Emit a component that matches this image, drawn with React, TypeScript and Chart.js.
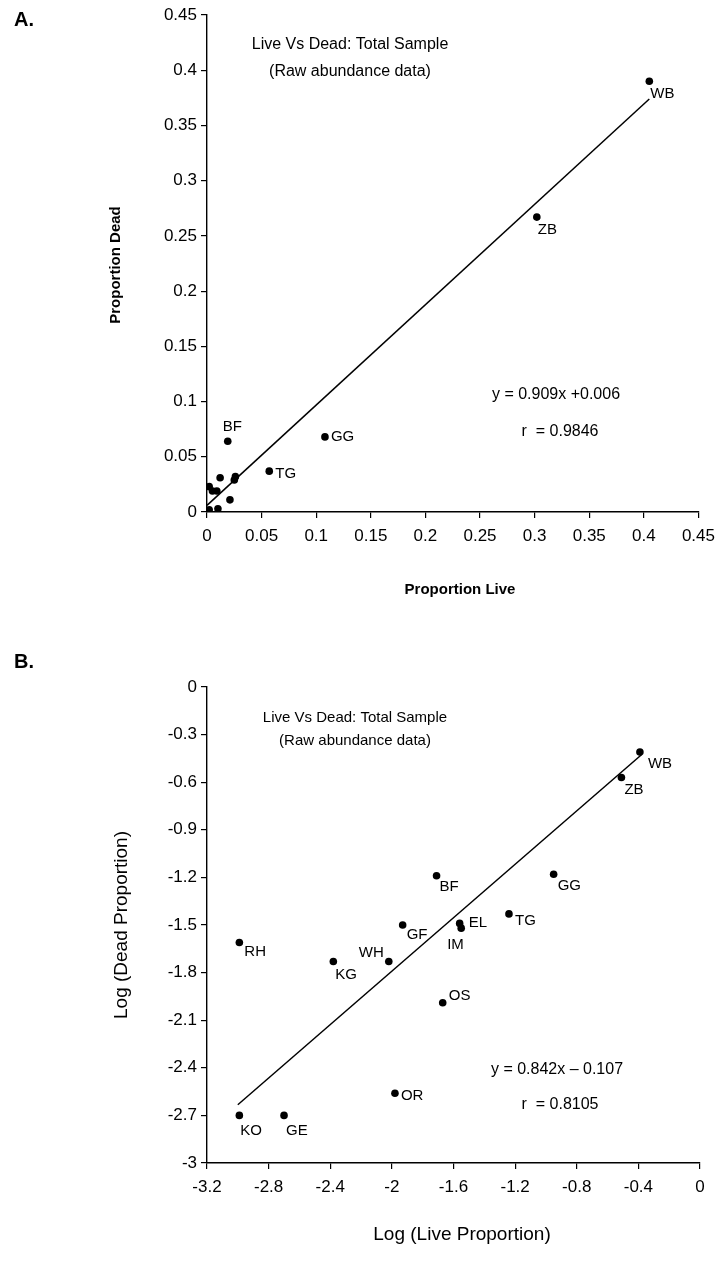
import React, { useEffect, useRef } from "react";
import { Chart, registerables } from "chart.js";

Chart.register(...registerables);

const FONT = "'Liberation Sans', Arial, Helvetica, sans-serif";

// ---------- Panel A data (raw proportions) ----------
const topCodes = ["WB", "ZB", "GG", "TG", "BF", "GF", "EL", "IM", "OS", "WH", "KG", "RH", "OR", "KO", "GE"];
const topLive = [0.405, 0.302, 0.108, 0.057, 0.019, 0.012, 0.026, 0.025, 0.021, 0.009, 0.005, 0.002, 0.010, 0.001, 0.002];
const topDead = [0.390, 0.267, 0.068, 0.037, 0.064, 0.031, 0.032, 0.029, 0.011, 0.019, 0.019, 0.023, 0.003, 0.001, 0.002];
const topShownLabels = ["WB", "ZB", "GG", "TG", "BF"];
const topFitX = [0, 0.405];
const topFitY = [0.006, 0.374];
const topTickValues = [0, 0.05, 0.1, 0.15, 0.2, 0.25, 0.3, 0.35, 0.4, 0.45];
const topTickLabels = ["0", "0.05", "0.1", "0.15", "0.2", "0.25", "0.3", "0.35", "0.4", "0.45"];

// ---------- Panel B data (log proportions) ----------
const botCodes = ["WB", "ZB", "GG", "BF", "EL", "IM", "TG", "GF", "WH", "KG", "RH", "OS", "OR", "KO", "GE"];
const botLogLive = [-0.39, -0.51, -0.95, -1.71, -1.56, -1.55, -1.24, -1.93, -2.02, -2.38, -2.99, -1.67, -1.98, -2.99, -2.70];
const botLogDead = [-0.41, -0.57, -1.18, -1.19, -1.49, -1.52, -1.43, -1.50, -1.73, -1.73, -1.61, -1.99, -2.56, -2.70, -2.70];
const botFitX = [-3.0, -0.38];
const botFitY = [-2.633, -0.427];
const botXTickValues = [-3.2, -2.8, -2.4, -2, -1.6, -1.2, -0.8, -0.4, 0];
const botXTickLabels = ["-3.2", "-2.8", "-2.4", "-2", "-1.6", "-1.2", "-0.8", "-0.4", "0"];
const botYTickValues = [-3, -2.7, -2.4, -2.1, -1.8, -1.5, -1.2, -0.9, -0.6, -0.3, 0];
const botYTickLabels = ["-3", "-2.7", "-2.4", "-2.1", "-1.8", "-1.5", "-1.2", "-0.9", "-0.6", "-0.3", "0"];

// label offsets (px) relative to the point
const topLabelOffsets: Record<string, [number, number, string]> = {
  WB: [1, 13, "left"],
  ZB: [1, 13, "left"],
  GG: [6, 0, "left"],
  TG: [6, 3, "left"],
  BF: [-5, -14, "left"],
};
const botLabelOffsets: Record<string, [number, number, string]> = {
  WB: [8, 12, "left"],
  ZB: [3, 12, "left"],
  GG: [4, 12, "left"],
  BF: [3, 11, "left"],
  EL: [9, -1, "left"],
  IM: [-14, 17, "left"],
  TG: [6, 7, "left"],
  GF: [4, 10, "left"],
  WH: [-30, -9, "left"],
  KG: [2, 13, "left"],
  RH: [5, 9, "left"],
  OS: [6, -7, "left"],
  OR: [6, 3, "left"],
  KO: [1, 15, "left"],
  GE: [2, 15, "left"],
};

type TextItem = {
  text: string;
  x: number;
  y: number;
  font: string;
  align?: CanvasTextAlign;
  rot?: number;
  data?: boolean;
  dx?: number;
  dy?: number;
};

function textPlugin(items: TextItem[]) {
  return {
    id: "texts",
    afterDraw(chart: any) {
      const ctx: CanvasRenderingContext2D = chart.ctx;
      const xs = chart.scales.x;
      const ys = chart.scales.y;
      ctx.save();
      ctx.fillStyle = "#000";
      ctx.textBaseline = "middle";
      for (const t of items) {
        let px = t.x;
        let py = t.y;
        if (t.data) {
          px = xs.getPixelForValue(t.x);
          py = ys.getPixelForValue(t.y);
        }
        px += t.dx || 0;
        py += t.dy || 0;
        ctx.font = t.font;
        ctx.textAlign = t.align || "left";
        if (t.rot) {
          ctx.save();
          ctx.translate(px, py);
          ctx.rotate(t.rot);
          ctx.fillText(t.text, 0, 0);
          ctx.restore();
        } else {
          ctx.fillText(t.text, px, py);
        }
      }
      ctx.restore();
    },
  };
}

function axisCommon(values: number[], labels: string[], min: number, max: number, size: number, isX: boolean, fit: number) {
  return {
    type: "linear" as const,
    min,
    max,
    afterBuildTicks: (scale: any) => {
      scale.ticks = values.map((v) => ({ value: v }));
    },
    afterFit: (scale: any) => {
      if (isX) scale.height = fit;
      else scale.width = fit;
    },
    ticks: {
      color: "#000",
      font: { family: FONT, size },
      padding: isX ? 8 : 4,
      autoSkip: false,
      maxRotation: 0,
      minRotation: 0,
      callback: (_v: any, i: number) => labels[i],
    },
    grid: {
      display: true,
      drawOnChartArea: false,
      drawTicks: true,
      tickLength: 6,
      color: "#000",
      lineWidth: 1.2,
    },
    border: { display: true, color: "#000", width: 1.4 },
    title: { display: false },
  };
}

export default function App() {
  const topRef = useRef<HTMLCanvasElement | null>(null);
  const botRef = useRef<HTMLCanvasElement | null>(null);

  useEffect(() => {
    document.body.style.margin = "0";
    const charts: Chart[] = [];

    // ----- Panel A -----
    const topPts = topLive.map((v, i) => ({ x: v, y: topDead[i] }));
    const topItems: TextItem[] = [
      { text: "A.", x: 14, y: 20, font: `bold 20px ${FONT}` },
      { text: "Live Vs Dead: Total Sample", x: 350, y: 45, font: `16px ${FONT}`, align: "center" },
      { text: "(Raw abundance data)", x: 350, y: 72, font: `16px ${FONT}`, align: "center" },
      { text: "y = 0.909x +0.006", x: 556, y: 395, font: `16px ${FONT}`, align: "center" },
      { text: "r  = 0.9846", x: 560, y: 432, font: `16px ${FONT}`, align: "center" },
      { text: "Proportion Live", x: 460, y: 590, font: `bold 15px ${FONT}`, align: "center" },
      { text: "Proportion Dead", x: 116, y: 265, font: `bold 15px ${FONT}`, align: "center", rot: -Math.PI / 2 },
    ];
    topCodes.forEach((c, i) => {
      if (topShownLabels.includes(c)) {
        const o = topLabelOffsets[c];
        topItems.push({ text: c, x: topLive[i], y: topDead[i], data: true, dx: o[0], dy: o[1], font: `15px ${FONT}`, align: o[2] as CanvasTextAlign });
      }
    });

    if (topRef.current) {
      charts.push(
        new Chart(topRef.current, {
          type: "scatter",
          data: {
            datasets: [
              {
                data: topPts,
                backgroundColor: "#000",
                borderColor: "#000",
                pointRadius: 3.8,
                pointBorderWidth: 0,
              },
              {
                type: "line",
                data: topFitX.map((v, i) => ({ x: v, y: topFitY[i] })),
                borderColor: "#000",
                borderWidth: 1.5,
                pointRadius: 0,
                showLine: true,
                fill: false,
              } as any,
            ],
          },
          options: {
            animation: false,
            responsive: false,
            maintainAspectRatio: false,
            layout: { padding: { left: 0, right: 20, top: 15, bottom: 0 } },
            plugins: { legend: { display: false }, tooltip: { enabled: false }, title: { display: false } },
            scales: {
              x: axisCommon(topTickValues, topTickLabels, 0, 0.45, 17, true, 128),
              y: axisCommon(topTickValues, topTickLabels, 0, 0.45, 17, false, 207),
            },
          } as any,
          plugins: [textPlugin(topItems)],
        })
      );
    }

    // ----- Panel B -----
    const botPts = botLogLive.map((v, i) => ({ x: v, y: botLogDead[i] }));
    const botItems: TextItem[] = [
      { text: "B.", x: 14, y: 22, font: `bold 20px ${FONT}` },
      { text: "Live Vs Dead: Total Sample", x: 355, y: 78, font: `15px ${FONT}`, align: "center" },
      { text: "(Raw abundance data)", x: 355, y: 101, font: `15px ${FONT}`, align: "center" },
      { text: "y = 0.842x \u2013 0.107", x: 557, y: 430, font: `16px ${FONT}`, align: "center" },
      { text: "r  = 0.8105", x: 560, y: 465, font: `16px ${FONT}`, align: "center" },
      { text: "Log (Live Proportion)", x: 462, y: 595, font: `19px ${FONT}`, align: "center" },
      { text: "Log (Dead Proportion)", x: 122, y: 285, font: `19px ${FONT}`, align: "center", rot: -Math.PI / 2 },
    ];
    botCodes.forEach((c, i) => {
      const o = botLabelOffsets[c];
      botItems.push({ text: c, x: botLogLive[i], y: botLogDead[i], data: true, dx: o[0], dy: o[1], font: `15px ${FONT}`, align: o[2] as CanvasTextAlign });
    });

    if (botRef.current) {
      charts.push(
        new Chart(botRef.current, {
          type: "scatter",
          data: {
            datasets: [
              {
                data: botPts,
                backgroundColor: "#000",
                borderColor: "#000",
                pointRadius: 3.8,
                pointBorderWidth: 0,
              },
              {
                type: "line",
                data: botFitX.map((v, i) => ({ x: v, y: botFitY[i] })),
                borderColor: "#000",
                borderWidth: 1.5,
                pointRadius: 0,
                showLine: true,
                fill: false,
              } as any,
            ],
          },
          options: {
            animation: false,
            responsive: false,
            maintainAspectRatio: false,
            layout: { padding: { left: 0, right: 23, top: 47, bottom: 0 } },
            plugins: { legend: { display: false }, tooltip: { enabled: false }, title: { display: false } },
            scales: {
              x: axisCommon(botXTickValues, botXTickLabels, -3.2, 0, 17, true, 98),
              y: axisCommon(botYTickValues, botYTickLabels, -3, 0, 17, false, 207),
            },
          } as any,
          plugins: [textPlugin(botItems)],
        })
      );
    }

    return () => {
      charts.forEach((c) => c.destroy());
    };
  }, []);

  return (
    <div style={{ position: "relative", width: 723, height: 1261, background: "#fff", overflow: "hidden" }}>
      <canvas ref={topRef} width={723} height={640} style={{ position: "absolute", left: 0, top: 0, width: 723, height: 640 }} />
      <canvas ref={botRef} width={723} height={621} style={{ position: "absolute", left: 0, top: 640, width: 723, height: 621 }} />
    </div>
  );
}
